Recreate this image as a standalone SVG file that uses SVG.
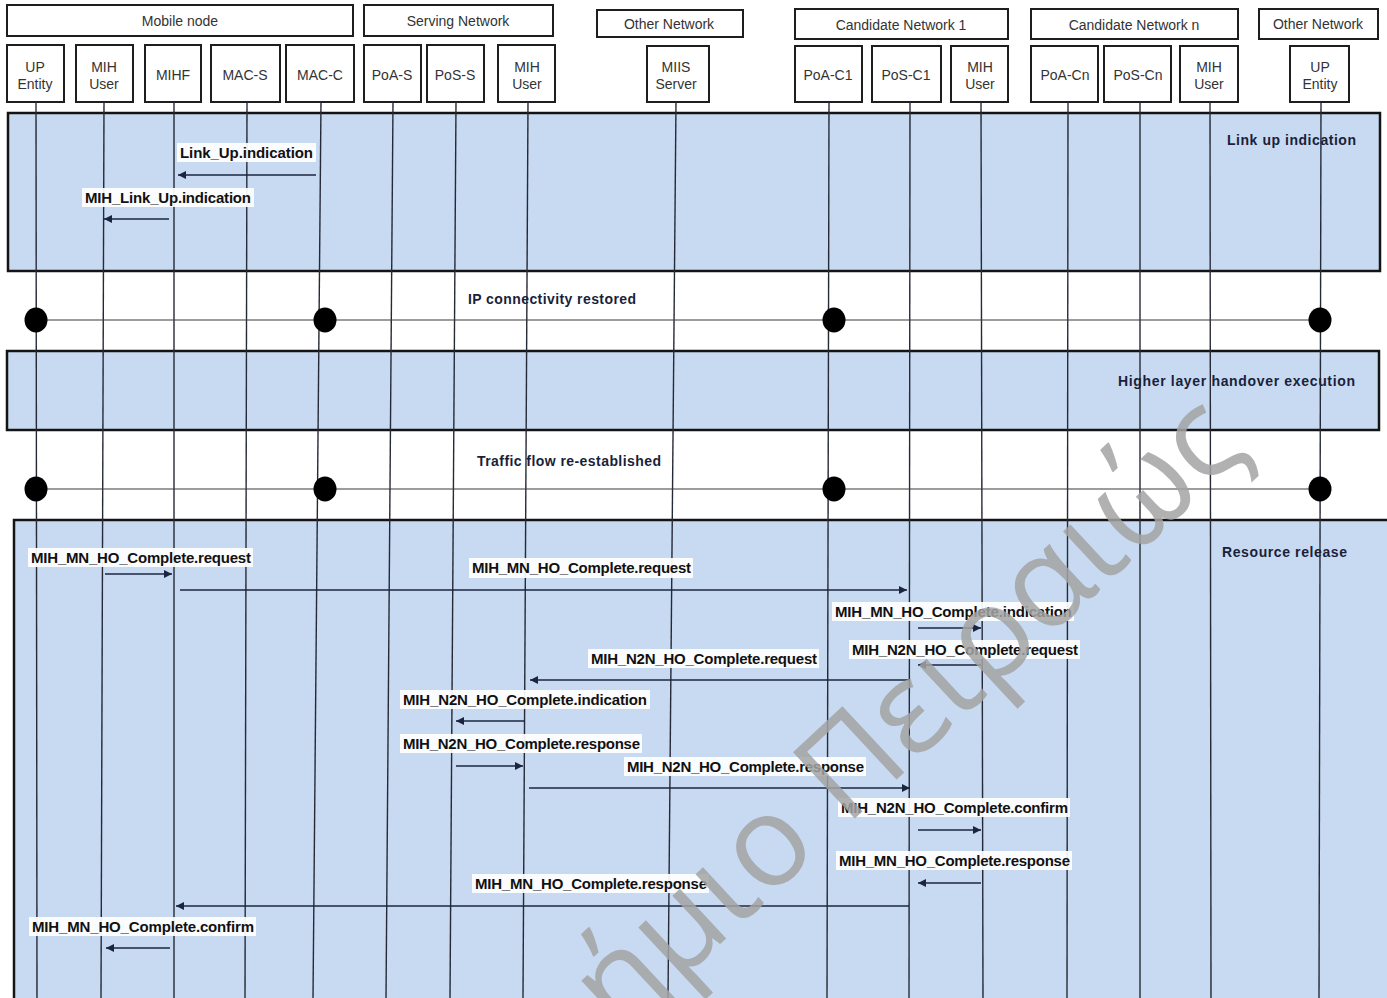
<svg xmlns="http://www.w3.org/2000/svg" width="1387" height="998" viewBox="0 0 1387 998">
  <defs>
    <marker id="ah" viewBox="0 0 10 10" refX="10" refY="5" markerWidth="9" markerHeight="8" markerUnits="userSpaceOnUse" orient="auto">
      <path d="M0,0 L10,5 L0,10 z" fill="#1c2540"/>
    </marker>
    <style>
      .grp rect { fill: #ffffff; stroke: #1e1e1e; stroke-width: 2; }
      .grp text { font-family: "Liberation Sans", Arial, sans-serif; font-size: 14px; fill: #333333; text-anchor: middle; }
      .frame { fill: #c7daf2; stroke: #141414; stroke-width: 2.5; }
      .life { stroke: #262a36; stroke-width: 1.4; fill: none; }
      .sync { stroke: #3a3a3a; stroke-width: 1.2; }
      .dot { fill: #000000; }
      .msg { stroke: #1c2540; stroke-width: 1.6; fill: none; marker-end: url(#ah); }
      .lblbg { fill: #ffffff; opacity: 0.92; }
      .lbl { font-family: "Liberation Sans Narrow", "Liberation Sans", Arial, sans-serif; font-weight: bold; font-size: 15px; fill: #111111; }
      .ttl { font-family: "Liberation Sans", Arial, sans-serif; font-weight: bold; font-size: 14px; fill: #1a1f3a; }
      .wm { font-family: "Open Sans", "Noto Sans", sans-serif; font-weight: 400; font-size: 127px; fill: #a4a4a4; opacity: 0.85; }
    </style>
  </defs>

  <rect x="0" y="0" width="1387" height="998" fill="#ffffff"/>

  <!-- phase frames -->
  <g id="phases">
    <rect id="frame-linkup" class="frame" x="8" y="113" width="1372" height="158"/>
    <rect id="frame-hlho" class="frame" x="7" y="351" width="1372" height="79"/>
    <rect id="frame-release" class="frame" x="14" y="520" width="1390" height="500"/>
  </g>

  <!-- group headers -->
  <g id="grp-mobile" class="grp"><rect x="7" y="5" width="346" height="31"/><text x="180" y="26">Mobile node</text></g>
  <g id="grp-serving" class="grp"><rect x="364" y="5" width="189" height="31"/><text x="458" y="26">Serving Network</text></g>
  <g id="grp-other1" class="grp"><rect x="597" y="10" width="146" height="27"/><text x="669" y="29">Other Network</text></g>
  <g id="grp-cand1" class="grp"><rect x="795" y="9" width="213" height="30"/><text x="901" y="30">Candidate Network 1</text></g>
  <g id="grp-candn" class="grp"><rect x="1031" y="9" width="207" height="30"/><text x="1134" y="30">Candidate Network n</text></g>
  <g id="grp-other2" class="grp"><rect x="1259" y="9" width="119" height="30"/><text x="1318" y="29">Other Network</text></g>

  <!-- entities -->
  <g id="n-up-mn" class="grp"><rect x="7" y="45" width="57" height="57"/><text x="35" y="72">UP</text><text x="35" y="89">Entity</text></g>
  <g id="n-mihuser-mn" class="grp"><rect x="76" y="45" width="57" height="57"/><text x="104" y="72">MIH</text><text x="104" y="89">User</text></g>
  <g id="n-mihf" class="grp"><rect x="145" y="45" width="56" height="57"/><text x="173" y="80">MIHF</text></g>
  <g id="n-mac-s" class="grp"><rect x="211" y="45" width="69" height="57"/><text x="245" y="80">MAC-S</text></g>
  <g id="n-mac-c" class="grp"><rect x="286" y="45" width="68" height="57"/><text x="320" y="80">MAC-C</text></g>
  <g id="n-poa-s" class="grp"><rect x="364" y="45" width="57" height="57"/><text x="392" y="80">PoA-S</text></g>
  <g id="n-pos-s" class="grp"><rect x="427" y="45" width="57" height="57"/><text x="455" y="80">PoS-S</text></g>
  <g id="n-mihuser-s" class="grp"><rect x="498" y="45" width="57" height="57"/><text x="527" y="72">MIH</text><text x="527" y="89">User</text></g>
  <g id="n-miis" class="grp"><rect x="647" y="46" width="62" height="56"/><text x="676" y="72">MIIS</text><text x="676" y="89">Server</text></g>
  <g id="n-poa-c1" class="grp"><rect x="795" y="46" width="67" height="56"/><text x="828" y="80">PoA-C1</text></g>
  <g id="n-pos-c1" class="grp"><rect x="872" y="46" width="69" height="56"/><text x="906" y="80">PoS-C1</text></g>
  <g id="n-mihuser-c1" class="grp"><rect x="951" y="46" width="57" height="56"/><text x="980" y="72">MIH</text><text x="980" y="89">User</text></g>
  <g id="n-poa-cn" class="grp"><rect x="1031" y="46" width="67" height="56"/><text x="1065" y="80">PoA-Cn</text></g>
  <g id="n-pos-cn" class="grp"><rect x="1104" y="46" width="67" height="56"/><text x="1138" y="80">PoS-Cn</text></g>
  <g id="n-mihuser-cn" class="grp"><rect x="1180" y="46" width="58" height="56"/><text x="1209" y="72">MIH</text><text x="1209" y="89">User</text></g>
  <g id="n-up-other" class="grp"><rect x="1290" y="46" width="59" height="56"/><text x="1320" y="72">UP</text><text x="1320" y="89">Entity</text></g>

  <!-- lifelines -->
  <g id="lifelines">
    <line class="life" x1="36" y1="102" x2="37" y2="998"/>
    <line class="life" x1="104" y1="102" x2="101" y2="998"/>
    <line class="life" x1="174" y1="102" x2="174" y2="998"/>
    <line class="life" x1="247" y1="102" x2="245" y2="998"/>
    <line class="life" x1="321" y1="102" x2="313" y2="998"/>
    <line class="life" x1="393" y1="102" x2="386" y2="998"/>
    <line class="life" x1="456" y1="102" x2="450" y2="998"/>
    <line class="life" x1="528" y1="102" x2="523" y2="998"/>
    <line class="life" x1="676" y1="102" x2="668" y2="998"/>
    <line class="life" x1="829" y1="102" x2="827" y2="998"/>
    <line class="life" x1="910" y1="102" x2="909" y2="998"/>
    <line class="life" x1="981" y1="102" x2="983" y2="998"/>
    <line class="life" x1="1068" y1="102" x2="1067" y2="998"/>
    <line class="life" x1="1140" y1="102" x2="1140" y2="998"/>
    <line class="life" x1="1210" y1="102" x2="1211" y2="998"/>
    <line class="life" x1="1321" y1="102" x2="1319" y2="998"/>
  </g>

  <!-- synchronisation points -->
  <g id="sync-ip">
    <line class="sync" x1="36" y1="320" x2="1320" y2="320"/>
    <ellipse class="dot" cx="36" cy="320" rx="11.5" ry="12.5"/>
    <ellipse class="dot" cx="325" cy="320" rx="11.5" ry="12.5"/>
    <ellipse class="dot" cx="834" cy="320" rx="11.5" ry="12.5"/>
    <ellipse class="dot" cx="1320" cy="320" rx="11.5" ry="12.5"/>
  </g>
  <g id="sync-traffic">
    <line class="sync" x1="36" y1="489" x2="1320" y2="489"/>
    <ellipse class="dot" cx="36" cy="489" rx="11.5" ry="12.5"/>
    <ellipse class="dot" cx="325" cy="489" rx="11.5" ry="12.5"/>
    <ellipse class="dot" cx="834" cy="489" rx="11.5" ry="12.5"/>
    <ellipse class="dot" cx="1320" cy="489" rx="11.5" ry="12.5"/>
  </g>

  <!-- phase titles -->
  <g id="titles">
    <text class="ttl" x="1227" y="145" textLength="129">Link up indication</text>
    <text class="ttl" x="468" y="304" textLength="168">IP connectivity restored</text>
    <text class="ttl" x="1118" y="386" textLength="237">Higher layer handover execution</text>
    <text class="ttl" x="477" y="466" textLength="184">Traffic flow re-established</text>
    <text class="ttl" x="1222" y="557" textLength="125">Resource release</text>
  </g>

  <!-- messages -->
  <g id="connectors">
    <line class="msg" x1="316" y1="175" x2="178" y2="175"/>
    <line class="msg" x1="169" y1="219" x2="104" y2="219"/>
    <line class="msg" x1="105" y1="574" x2="172" y2="574"/>
    <line class="msg" x1="180" y1="590" x2="907" y2="590"/>
    <line class="msg" x1="918" y1="628" x2="981" y2="628"/>
    <line class="msg" x1="981" y1="665" x2="918" y2="665"/>
    <line class="msg" x1="909" y1="680" x2="530" y2="680"/>
    <line class="msg" x1="525" y1="721" x2="456" y2="721"/>
    <line class="msg" x1="456" y1="766" x2="523" y2="766"/>
    <line class="msg" x1="529" y1="788" x2="910" y2="788"/>
    <line class="msg" x1="918" y1="830" x2="981" y2="830"/>
    <line class="msg" x1="981" y1="883" x2="918" y2="883"/>
    <line class="msg" x1="909" y1="906" x2="176" y2="906"/>
    <line class="msg" x1="170" y1="948" x2="106" y2="948"/>
  </g>

  <!-- message labels -->
  <g id="labels">
    <rect class="lblbg" x="177" y="143" width="139" height="19"/>
    <text class="lbl" x="180" y="158" textLength="133">Link_Up.indication</text>
    <rect class="lblbg" x="82" y="188" width="172" height="19"/>
    <text class="lbl" x="85" y="203" textLength="166">MIH_Link_Up.indication</text>

    <rect class="lblbg" x="28" y="548" width="225" height="19"/>
    <text class="lbl" x="31" y="563" textLength="220">MIH_MN_HO_Complete.request</text>
    <rect class="lblbg" x="469" y="558" width="224" height="20"/>
    <text class="lbl" x="472" y="573" textLength="219">MIH_MN_HO_Complete.request</text>
    <rect class="lblbg" x="832" y="602" width="242" height="19"/>
    <text class="lbl" x="835" y="617" textLength="237">MIH_MN_HO_Complete.indication</text>
    <rect class="lblbg" x="849" y="640" width="231" height="19"/>
    <text class="lbl" x="852" y="655" textLength="226">MIH_N2N_HO_Complete.request</text>
    <rect class="lblbg" x="588" y="649" width="231" height="19"/>
    <text class="lbl" x="591" y="664" textLength="226">MIH_N2N_HO_Complete.request</text>
    <rect class="lblbg" x="400" y="690" width="250" height="19"/>
    <text class="lbl" x="403" y="705" textLength="244">MIH_N2N_HO_Complete.indication</text>
    <rect class="lblbg" x="400" y="734" width="242" height="19"/>
    <text class="lbl" x="403" y="749" textLength="237">MIH_N2N_HO_Complete.response</text>
    <rect class="lblbg" x="624" y="757" width="242" height="19"/>
    <text class="lbl" x="627" y="772" textLength="237">MIH_N2N_HO_Complete.response</text>
    <rect class="lblbg" x="838" y="798" width="232" height="19"/>
    <text class="lbl" x="841" y="813" textLength="227">MIH_N2N_HO_Complete.confirm</text>
    <rect class="lblbg" x="836" y="851" width="236" height="19"/>
    <text class="lbl" x="839" y="866" textLength="231">MIH_MN_HO_Complete.response</text>
    <rect class="lblbg" x="472" y="874" width="237" height="19"/>
    <text class="lbl" x="475" y="889" textLength="232">MIH_MN_HO_Complete.response</text>
    <rect class="lblbg" x="29" y="917" width="227" height="19"/>
    <text class="lbl" x="32" y="932" textLength="222">MIH_MN_HO_Complete.confirm</text>
  </g>

  <!-- repository stamp -->
  <text class="wm" x="1250" y="450" text-anchor="end" transform="rotate(-43 1250 450)">ήμιο Πειραιώς</text>
</svg>
